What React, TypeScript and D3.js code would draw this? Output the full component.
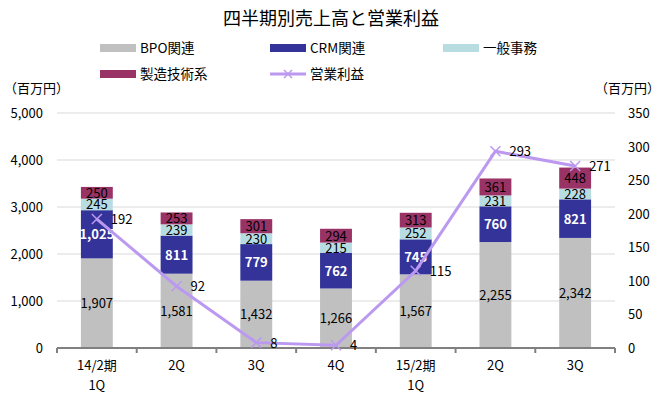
import React, { useRef, useEffect } from "react";
import * as d3 from "d3";

const quarters = [["14/2期", "1Q"], ["2Q"], ["3Q"], ["4Q"], ["15/2期", "1Q"], ["2Q"], ["3Q"]];
const bpo = [1907, 1581, 1432, 1266, 1567, 2255, 2342];
const crm = [1025, 811, 779, 762, 745, 760, 821];
const general = [245, 239, 230, 215, 252, 231, 228];
const manufacturing = [250, 253, 301, 294, 313, 361, 448];
const profit = [192, 92, 8, 4, 115, 293, 271];
const leftTicks = [0, 1000, 2000, 3000, 4000, 5000];
const rightTicks = [0, 50, 100, 150, 200, 250, 300, 350];

const seriesNames = ["BPO関連", "CRM関連", "一般事務", "製造技術系"];
const seriesColors = ["#c0c0c0", "#333399", "#b7dde3", "#993366"];
const labelColors = ["#000", "#fff", "#000", "#000"];
const lineColor = "#bb99f0";
const font = "'Noto Sans CJK JP', 'Liberation Sans', sans-serif";

const W = 663;
const H = 398;
const margin = { left: 57, right: 48, top: 113, bottom: 50 };

const App = () => {
  const svgRef = useRef<SVGSVGElement>(null);

  useEffect(() => {
    const svg = d3.select(svgRef.current);
    svg.selectAll("*").remove();
    const x0 = margin.left;
    const x1 = W - margin.right;
    const y0 = H - margin.bottom;
    const y1 = margin.top;

    const x = d3.scaleBand<number>().domain(d3.range(quarters.length)).range([x0, x1]).paddingInner(0.6).paddingOuter(0.3);
    const xCenter = (i: number) => (x(i) as number) + x.bandwidth() / 2;
    const y = d3.scaleLinear().domain([0, 5000]).range([y0, y1]);
    const yR = d3.scaleLinear().domain([0, 350]).range([y0, y1]);

    // title
    svg.append("text").attr("x", 331).attr("y", 25).attr("text-anchor", "middle")
      .attr("font-size", 18).attr("font-family", font).text("四半期別売上高と営業利益");

    // legend
    const legend = [
      { name: seriesNames[0], x: 100, y: 48, color: seriesColors[0], line: false },
      { name: seriesNames[1], x: 270, y: 48, color: seriesColors[1], line: false },
      { name: seriesNames[2], x: 443, y: 48, color: seriesColors[2], line: false },
      { name: seriesNames[3], x: 100, y: 74, color: seriesColors[3], line: false },
      { name: "営業利益", x: 270, y: 74, color: lineColor, line: true },
    ];
    legend.forEach((l) => {
      if (l.line) {
        svg.append("line").attr("x1", l.x).attr("x2", l.x + 36).attr("y1", l.y).attr("y2", l.y)
          .attr("stroke", l.color).attr("stroke-width", 3);
        const cx = l.x + 18;
        svg.append("path").attr("d", `M${cx - 4},${l.y - 4}L${cx + 4},${l.y + 4}M${cx - 4},${l.y + 4}L${cx + 4},${l.y - 4}`)
          .attr("stroke", l.color).attr("stroke-width", 1.5);
      } else {
        svg.append("rect").attr("x", l.x).attr("y", l.y - 4).attr("width", 36).attr("height", 8).attr("fill", l.color);
      }
      svg.append("text").attr("x", l.x + 40).attr("y", l.y + 5).attr("font-size", 13.5)
        .attr("font-family", font).text(l.name);
    });

    // unit labels
    svg.append("text").attr("x", 4).attr("y", 93).attr("font-size", 13).attr("font-family", font).text("（百万円）");
    svg.append("text").attr("x", 660).attr("y", 93).attr("text-anchor", "end").attr("font-size", 13).attr("font-family", font).text("（百万円）");

    // gridlines
    svg.append("g").selectAll("line").data(leftTicks.slice(1)).join("line")
      .attr("x1", x0).attr("x2", x1).attr("y1", (d) => y(d)).attr("y2", (d) => y(d))
      .attr("stroke", "#d9d9d9").attr("stroke-width", 1);

    // axis tick labels
    svg.append("g").selectAll("text").data(leftTicks).join("text")
      .attr("x", 43).attr("y", (d) => y(d) + 5).attr("text-anchor", "end")
      .attr("font-size", 13).attr("font-family", font).text((d) => d3.format(",")(d));
    svg.append("g").selectAll("text").data(rightTicks).join("text")
      .attr("x", 628).attr("y", (d) => yR(d) + 5)
      .attr("font-size", 13).attr("font-family", font).text((d) => String(d));

    // stacked bars
    const rows = quarters.map((_, i) => ({ i, v: [bpo[i], crm[i], general[i], manufacturing[i]] }));
    const stack = d3.stack<{ i: number; v: number[] }, number>().keys([0, 1, 2, 3]).value((d, k) => d.v[k]);
    const stacked = stack(rows);
    stacked.forEach((layer, k) => {
      const g = svg.append("g");
      g.selectAll("rect").data(layer).join("rect")
        .attr("x", (d) => x(d.data.i) as number).attr("width", x.bandwidth())
        .attr("y", (d) => y(d[1])).attr("height", (d) => y(d[0]) - y(d[1]))
        .attr("fill", seriesColors[k]);
      g.selectAll("text").data(layer).join("text")
        .attr("x", (d) => xCenter(d.data.i)).attr("y", (d) => (y(d[0]) + y(d[1])) / 2 + 5)
        .attr("text-anchor", "middle").attr("font-size", 13).attr("font-family", font)
        .attr("font-weight", k === 1 ? "bold" : "normal")
        .attr("fill", labelColors[k]).text((d) => d3.format(",")(d.data.v[k]));
    });

    // x axis
    const axis = svg.append("g");
    axis.append("line").attr("x1", x0).attr("x2", x1).attr("y1", y0).attr("y2", y0)
      .attr("stroke", "#808080").attr("stroke-width", 2);
    const step = (x1 - x0) / quarters.length;
    axis.selectAll(".tick").data(d3.range(quarters.length + 1)).join("line")
      .attr("x1", (d) => x0 + d * step).attr("x2", (d) => x0 + d * step)
      .attr("y1", y0).attr("y2", y0 + 5).attr("stroke", "#808080").attr("stroke-width", 2);
    quarters.forEach((lines, i) => {
      lines.forEach((t, j) => {
        axis.append("text").attr("x", xCenter(i)).attr("y", y0 + 22 + j * 20).attr("text-anchor", "middle")
          .attr("font-size", 13).attr("font-family", font).text(t);
      });
    });

    // profit line
    const line = d3.line<number>().x((_, i) => xCenter(i)).y((d) => yR(d));
    svg.append("path").datum(profit).attr("d", line).attr("fill", "none")
      .attr("stroke", lineColor).attr("stroke-width", 3);
    svg.append("g").selectAll("path").data(profit).join("path")
      .attr("d", (d, i) => {
        const cx = xCenter(i);
        const cy = yR(d);
        return `M${cx - 5},${cy - 5}L${cx + 5},${cy + 5}M${cx - 5},${cy + 5}L${cx + 5},${cy - 5}`;
      })
      .attr("stroke", lineColor).attr("stroke-width", 1.5);
    svg.append("g").selectAll("text").data(profit).join("text")
      .attr("x", (_, i) => xCenter(i) + 14).attr("y", (d) => yR(d) + 5)
      .attr("font-size", 13).attr("font-family", font).text((d) => String(d));
  }, []);

  return (
    <svg ref={svgRef} width={W} height={H} style={{ position: "absolute", left: 0, top: 0, background: "#fff" }} />
  );
};

export default App;
